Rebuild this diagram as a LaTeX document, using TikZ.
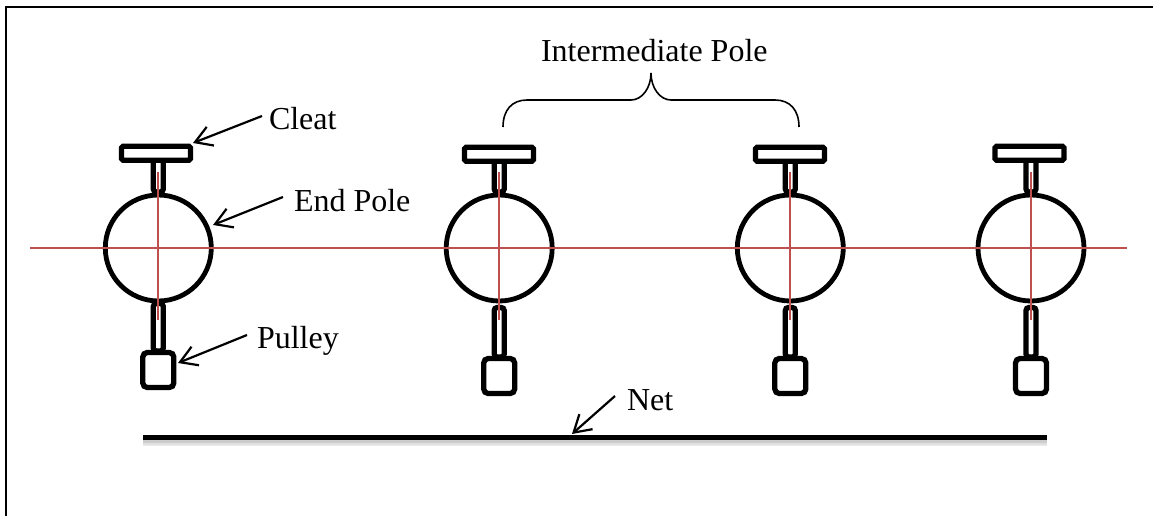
\documentclass[tikz,border=0pt]{standalone}
\usepackage{fontspec}
\setmainfont{Liberation Serif}
\usetikzlibrary{arrows.meta}
\definecolor{redline}{HTML}{C0504D}
\tikzset{
  x=1pt,y=-1pt,
  partbox/.style={draw=black,line width=5.3pt,fill=white,rounded corners=1.6pt,inner sep=0pt,outer sep=0pt},
  polering/.style={draw=black,line width=4.8pt,circle,inner sep=0pt,outer sep=0pt,minimum size=106pt},
  axis/.style={draw=redline,line width=2pt},
  lbl/.style={font=\fontsize{32}{36}\selectfont,inner sep=0pt,outer sep=0pt,text=black},
  callout/.style={draw=black,line width=2.2pt,-{Straight Barb[length=16.5pt,width=20pt,line width=2.2pt]},shorten >=0pt},
}
% #1 name, #2 x, #3 cleat y, #4 upper-stem bottom, #5 lower-stem top, #6 pulley y, #7 cleat x
\newcommand{\polefig}[7]{%
  \node[partbox,minimum width=10pt,minimum height={#4-#3},rounded corners=3pt] (#1us) at (#2,{(#3+#4)/2}) {};
  \node[partbox,minimum width=10pt,minimum height={#6-#5},rounded corners=3pt] (#1ls) at (#2,{(#5+#6)/2}) {};
  \node[partbox,minimum width=69pt,minimum height=14pt] (#1cleat) at (#7,#3) {};
  \node[partbox,minimum width=31pt,minimum height=35pt,rounded corners=4.5pt] (#1pulley) at (#2,{#6+19}) {};
  \node[polering] (#1ring) at (#2,248) {};
  \draw[axis] (#2,172) -- (#2,320);
}
\begin{document}
\begin{tikzpicture}
\useasboundingbox (0,0) rectangle (1153,516);
\coordinate (fbl) at (6,516);
\coordinate (ftl) at (6,7);
\coordinate (ftr) at (1153,7);
\draw[black,line width=2.2pt] (fbl) -- (ftl) -- (ftr);
\polefig{a}{158.3}{153.3}{192}{303.5}{351}{156}
\polefig{b}{499.2}{154.3}{192}{307.5}{357}{499}
\polefig{c}{790.3}{154.3}{192}{307.5}{357}{790}
\polefig{d}{1031}{153.3}{192}{307.5}{357}{1029.5}
\coordinate (axl) at (30,248);
\coordinate (axr) at (1127,248);
\draw[axis] (axl) -- (axr);
% net with soft shadow
\coordinate (netl) at (143,437);
\coordinate (netr) at (1047,437);
\foreach \o/\w/\s in {4/10/8,3.5/8/12,3/6/20}{
  \draw[black!\s,line width=\w pt] ([yshift=-\o pt]netl) -- ([yshift=-\o pt]netr);
}
\draw[black,line width=5pt] (netl) -- (netr);
% labels
\node[lbl,anchor=base west] (cleatl) at (269,130) {Cleat};
\node[lbl,anchor=base west] (endl) at (294,211) {End Pole};
\node[lbl,anchor=base west] (pulleyl) at (257,348) {Pulley};
\node[lbl,anchor=base west] (netlb) at (627,410) {Net};
\node[lbl,anchor=base west] (interl) at (541,62) {Intermediate Pole};
% callouts
\coordinate (c1) at (262,116);\coordinate (t1) at (193,143);
\coordinate (c2) at (283,197);\coordinate (t2) at (213,225);
\coordinate (c3) at (247,335);\coordinate (t3) at (178,363);
\coordinate (c4) at (615,396);\coordinate (t4) at (572,434);
\draw[callout] (c1) -- (t1);
\draw[callout] (c2) -- (t2);
\draw[callout] (c3) -- (t3);
\draw[callout] (c4) -- (t4);
% brace
\coordinate (brl) at (503,127);
\coordinate (brm) at (651,73);
\coordinate (brr) at (799,127);
\draw[black,line width=1.6pt]
  (brl) .. controls (503,110) and (512,100) .. (527,100) -- (631,100)
  .. controls (642,100) and (651,88) .. (brm)
  .. controls (651,88) and (660,100) .. (671,100) -- (775,100)
  .. controls (790,100) and (799,110) .. (brr);
\end{tikzpicture}
\end{document}
